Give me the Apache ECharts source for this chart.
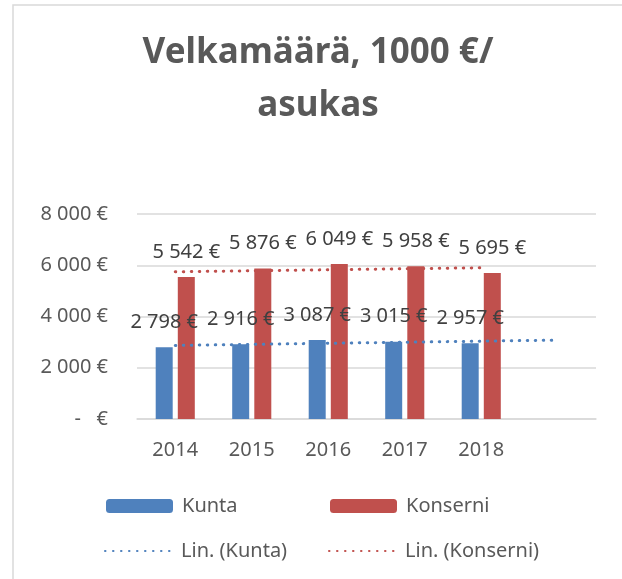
<!DOCTYPE html>
<html>
<head>
<meta charset="utf-8">
<title>Velkamäärä</title>
<script src="https://cdn.jsdelivr.net/npm/echarts@6/dist/echarts.min.js"></script>
<style>
  html, body { margin: 0; padding: 0; background: #fff; }
  #chart { width: 622px; height: 579px; }
</style>
</head>
<body>
<div id="chart"></div>
<script>
// categories (last one is empty, Excel left room for the trend forecast)
const years = ['2014', '2015', '2016', '2017', '2018', '']
const kunta = [2798, 2916, 3087, 3015, 2957]
const konserni = [5542, 5876, 6049, 5958, 5695]
// linear trendlines
const kuntaTrend = [2871, 2913, 2955, 2996, 3038, 3080]
const konserniTrend = [5746, 5785, 5824, 5863, 5902, null]
const yTicks = [0, 2000, 4000, 6000, 8000]
const yTickLabels = ['-   €', '2 000 €', '4 000 €', '6 000 €', '8 000 €']

const BLUE = '#4f81bd'
const RED = '#c0504d'
const FONT = 'Noto Sans'

const euro = v => String(v).replace(/\B(?=(\d{3})+(?!\d))/g, ' ') + ' €'

const chart = echarts.init(document.getElementById('chart'))

const legendBase = {
  orient: 'horizontal',
  padding: 0,
  itemWidth: 67,
  itemHeight: 14,
  selectedMode: false,
  textStyle: { fontFamily: FONT, fontSize: 20, color: '#595959', padding: [0, 0, 0, 4], lineHeight: 20 }
}

const dotted = color => ({
  color: color,
  width: 3,
  type: [0.5, 7.5],
  cap: 'round'
})

const option = {
  animation: false,
  textStyle: { fontFamily: FONT },
  title: {
    text: 'Velkamäärä, 1000 €/\nasukas',
    left: 318,
    top: 27,
    padding: 0,
    textAlign: 'center',
    textStyle: { fontFamily: FONT, fontSize: 35, fontWeight: 'bold', color: '#595959', lineHeight: 53 }
  },
  graphic: [{
    type: 'rect',
    shape: { x: 13, y: 5, width: 700, height: 700 },
    style: { fill: null, stroke: '#d9d9d9', lineWidth: 1.5 },
    silent: true
  }],
  legend: [
    Object.assign({}, legendBase, { data: ['Kunta'], left: 106, top: 496 }),
    Object.assign({}, legendBase, { data: ['Konserni'], left: 330, top: 496 }),
    Object.assign({}, legendBase, { data: ['Lin. (Kunta)'], left: 104, top: 541, itemStyle: { opacity: 0 } }),
    Object.assign({}, legendBase, { data: ['Lin. (Konserni)'], left: 328, top: 541, itemStyle: { opacity: 0 } })
  ],
  grid: { left: 137, right: 26, top: 214, bottom: 160 },
  xAxis: {
    type: 'category',
    data: years,
    axisLine: { lineStyle: { color: '#d9d9d9', width: 1.5 } },
    axisTick: { show: false },
    axisLabel: { color: '#595959', fontSize: 20, margin: 21 }
  },
  yAxis: {
    type: 'value',
    min: yTicks[0],
    max: yTicks[yTicks.length - 1],
    interval: 2000,
    axisLine: { show: false },
    axisTick: { show: false },
    splitLine: { lineStyle: { color: '#d9d9d9', width: 1.5 } },
    axisLabel: {
      color: '#595959',
      fontSize: 20,
      margin: 29,
      formatter: v => yTickLabels[yTicks.indexOf(v)]
    }
  },
  series: [
    {
      name: 'Kunta',
      type: 'bar',
      barWidth: 17,
      barGap: '30%',
      itemStyle: { color: BLUE },
      label: { show: true, position: 'top', distance: 15, color: '#404040', fontSize: 20, formatter: p => euro(p.value) },
      data: kunta
    },
    {
      name: 'Konserni',
      type: 'bar',
      barWidth: 17,
      barGap: '30%',
      itemStyle: { color: RED },
      label: { show: true, position: 'top', distance: 15, color: '#404040', fontSize: 20, formatter: p => euro(p.value) },
      data: konserni
    },
    {
      name: 'Lin. (Kunta)',
      type: 'line',
      symbol: 'none',
      silent: true,
      z: 3,
      itemStyle: { color: BLUE },
      lineStyle: dotted(BLUE),
      data: kuntaTrend
    },
    {
      name: 'Lin. (Konserni)',
      type: 'line',
      symbol: 'none',
      silent: true,
      z: 3,
      itemStyle: { color: RED },
      lineStyle: dotted(RED),
      data: konserniTrend
    }
  ]
}

chart.setOption(option)
window.addEventListener('resize', () => chart.resize())
</script>
</body>
</html>
